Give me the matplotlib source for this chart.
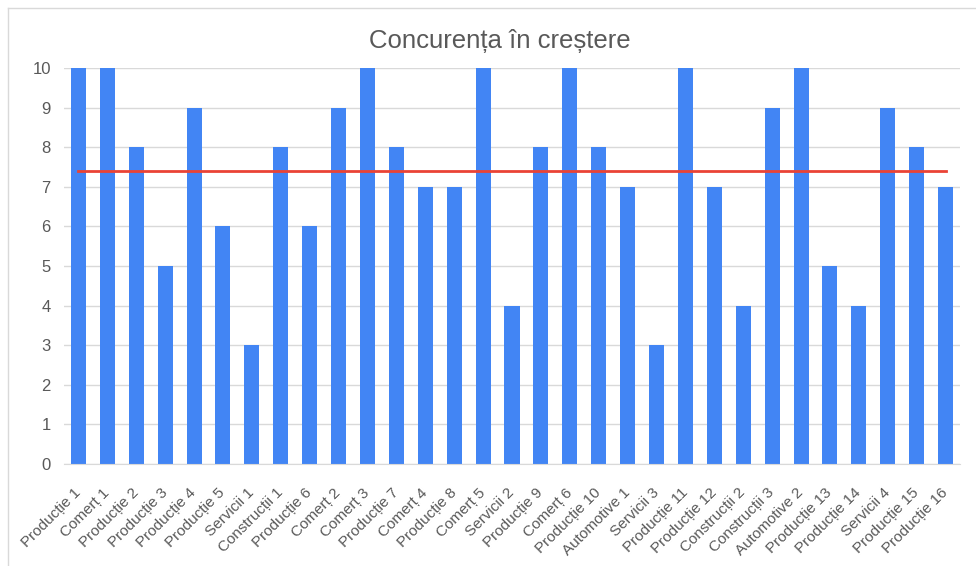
import matplotlib
matplotlib.use("Agg")
import matplotlib.pyplot as plt
from matplotlib.lines import Line2D

plt.rcParams['font.family'] = ['Liberation Sans', 'DejaVu Sans']

categories = [
    "Producție 1", "Comerț 1", "Producție 2", "Producție 3", "Producție 4",
    "Producție 5", "Servicii 1", "Construcții 1", "Producție 6", "Comerț 2",
    "Comerț 3", "Producție 7", "Comerț 4", "Producție 8", "Comerț 5",
    "Servicii 2", "Producție 9", "Comerț 6", "Producție 10", "Automotive 1",
    "Servicii 3", "Producție 11", "Producție 12", "Construcții 2", "Construcții 3",
    "Automotive 2", "Producție 13", "Producție 14", "Servicii 4", "Producție 15",
    "Producție 16",
]
values = [10, 10, 8, 5, 9, 6, 3, 8, 6, 9, 10, 8, 7, 7, 10, 4, 8, 10, 8, 7,
          3, 10, 7, 4, 9, 10, 5, 4, 9, 8, 7]
yticks = list(range(0, 11))

mean_value = sum(values) / len(values)

text_color = "#595959"
grid_color = "#d9d9d9"

fig = plt.figure(figsize=(9.76, 5.66), dpi=100)
ax = fig.add_axes([64 / 976, 1 - 464 / 566, (960 - 64) / 976, (464 - 68) / 566])

x = list(range(len(categories)))
ax.bar(x, values, width=0.52, color="#4285F4", zorder=2)
ax.plot([x[0], x[-1]], [mean_value, mean_value], color="#EA4335", lw=2, zorder=3)

ax.set_xlim(-0.5, len(categories) - 0.5)
ax.set_ylim(0, 10)
ax.set_yticks(yticks)
ax.yaxis.grid(True, color=grid_color, lw=1, zorder=0)
ax.set_axisbelow(True)
for side in ("top", "right", "left"):
    ax.spines[side].set_visible(False)
ax.spines["bottom"].set_color(grid_color)
ax.tick_params(axis="both", length=0, colors=text_color)
ax.tick_params(axis="y", pad=9.5, labelsize=12)
ax.set_xticks(x)
ax.set_xticklabels(categories, rotation=45, ha="right", va="center",
                   rotation_mode="anchor")
ax.tick_params(axis="x", pad=19, labelsize=11)

fig.text(500 / 976, 1 - 41 / 566, "Concurența în creștere", ha="center", va="center",
         fontsize=18.5, color=text_color)

# outer frame edges
fig.add_artist(Line2D([8 / 976, 8 / 976], [0, 1 - 8 / 566], color=grid_color, lw=1,
                      transform=fig.transFigure))
fig.add_artist(Line2D([8 / 976, 1], [1 - 8 / 566, 1 - 8 / 566], color=grid_color, lw=1,
                      transform=fig.transFigure))

fig.savefig("out.png", dpi=100, facecolor="white")
